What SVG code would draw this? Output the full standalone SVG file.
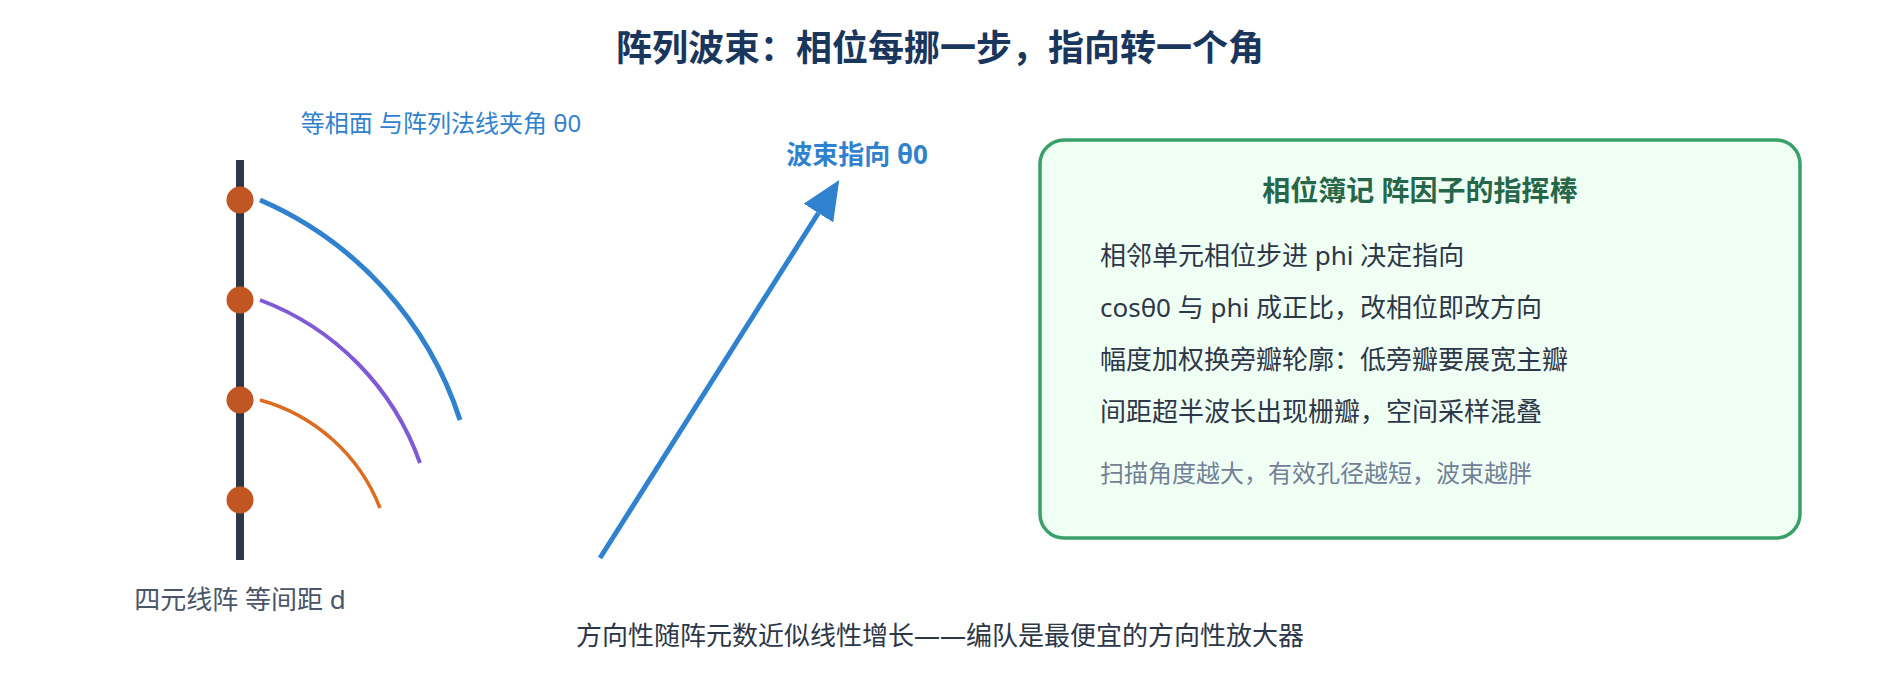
<svg xmlns="http://www.w3.org/2000/svg" width="1880" height="680" viewBox="0 0 1880 680">
  <defs>
    <style>
      text { font-family: "Noto Sans", "Noto Sans CJK SC", sans-serif; }
      .title { font-size: 36px; font-weight: 700; fill: #1a365d; }
      .lbl-blue { font-size: 24px; fill: #3182ce; }
      .beam { font-size: 26px; font-weight: 700; fill: #3182ce; }
      .cap { font-size: 26px; fill: #4a5568; }
      .foot { font-size: 26px; fill: #2d3748; }
      .box-title { font-size: 28px; font-weight: 700; fill: #276749; }
      .box-text { font-size: 26px; fill: #2d3748; }
      .box-note { font-size: 24px; fill: #718096; }
      .elem { fill: #c05621; }
      .wave { fill: none; }
    </style>
    <marker id="ah" markerUnits="userSpaceOnUse" markerWidth="39" markerHeight="35" viewBox="0 0 39 35" refX="0" refY="17.5" orient="auto">
      <path d="M0,0 L39,17.5 L0,35 z" fill="#3182ce"/>
    </marker>
  </defs>
  <rect x="0" y="0" width="1880" height="680" fill="#ffffff"/>

  <g id="title">
    <text class="title" x="940" y="61" text-anchor="middle">阵列波束：相位每挪一步，指向转一个角</text>
  </g>

  <g id="array">
    <line x1="240" y1="160" x2="240" y2="560" stroke="#2d3748" stroke-width="8"/>
    <circle class="elem" cx="240" cy="200" r="13.5"/>
    <circle class="elem" cx="240" cy="300" r="13.5"/>
    <circle class="elem" cx="240" cy="400" r="13.5"/>
    <circle class="elem" cx="240" cy="500" r="13.5"/>
    <text class="cap" x="240" y="609" text-anchor="middle">四元线阵 等间距 d</text>
  </g>

  <g id="wavefronts">
    <path class="wave" d="M260,200 A360,360 0 0 1 460,420" stroke="#3182ce" stroke-width="5"/>
    <path class="wave" d="M260,300 A270,270 0 0 1 420,463" stroke="#805ad5" stroke-width="4"/>
    <path class="wave" d="M260,400 A180,180 0 0 1 380,508" stroke="#dd6b20" stroke-width="3.5"/>
    <text class="lbl-blue" x="441" y="132" text-anchor="middle">等相面 与阵列法线夹角 θ0</text>
  </g>

  <g id="connectors">
    <line x1="600" y1="558" x2="818.4" y2="213" stroke="#3182ce" stroke-width="5" marker-end="url(#ah)"/>
  </g>

  <g id="beam-label">
    <text class="beam" x="857" y="164" text-anchor="middle">波束指向 θ0</text>
  </g>

  <g id="phase-box">
    <rect x="1040" y="140" width="760" height="398" rx="24" ry="24" fill="#f0fff4" stroke="#38a169" stroke-width="3.5"/>
    <text class="box-title" x="1420" y="201" text-anchor="middle">相位簿记 阵因子的指挥棒</text>
    <text class="box-text" x="1100" y="265">相邻单元相位步进 phi 决定指向</text>
    <text class="box-text" x="1100" y="317">cosθ0 与 phi 成正比，改相位即改方向</text>
    <text class="box-text" x="1100" y="369">幅度加权换旁瓣轮廓：低旁瓣要展宽主瓣</text>
    <text class="box-text" x="1100" y="421">间距超半波长出现栅瓣，空间采样混叠</text>
    <text class="box-note" x="1100" y="482">扫描角度越大，有效孔径越短，波束越胖</text>
  </g>

  <g id="footer">
    <text class="foot" x="940" y="645" text-anchor="middle">方向性随阵元数近似线性增长——编队是最便宜的方向性放大器</text>
  </g>
</svg>
